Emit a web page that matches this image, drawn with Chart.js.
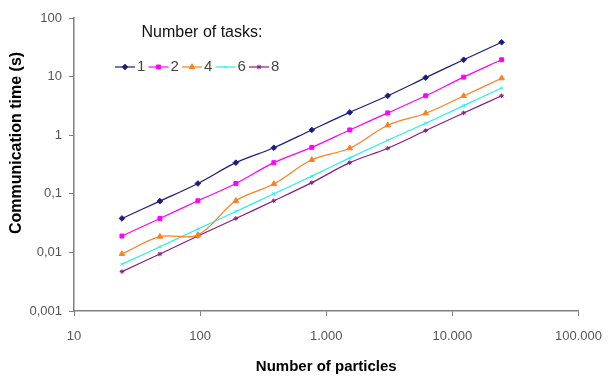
<!DOCTYPE html>
<html>
<head>
<meta charset="utf-8">
<script src="https://cdn.jsdelivr.net/npm/chart.js@4/dist/chart.umd.min.js"></script>
<style>
  html, body { margin: 0; padding: 0; background: #fff; }
  #wrap { width: 615px; height: 377px; }
</style>
</head>
<body>
<div id="wrap"><canvas id="commChart" width="615" height="377"></canvas></div>
<script>
// 数据
const particles = [24, 48, 96, 192, 384, 768, 1536, 3072, 6144, 12288, 24576];
const tasks1 = [0.038, 0.075, 0.15, 0.34, 0.61, 1.23, 2.45, 4.7, 9.6, 19.4, 38.5];
const tasks2 = [0.019, 0.038, 0.076, 0.15, 0.34, 0.62, 1.23, 2.4, 4.7, 9.8, 19.4];
const tasks4 = [0.0094, 0.0186, 0.0199, 0.076, 0.147, 0.38, 0.6, 1.48, 2.37, 4.67, 9.4];
const tasks6 = [0.0063, 0.0125, 0.025, 0.05, 0.1, 0.2, 0.41, 0.82, 1.6, 3.2, 6.4];
const tasks8 = [0.0047, 0.0094, 0.019, 0.038, 0.076, 0.155, 0.34, 0.6, 1.2, 2.4, 4.7];
const seriesLabels = ['1', '2', '4', '6', '8'];

const xTicks = [10, 100, 1000, 10000, 100000];
const xTickLabels = ['10', '100', '1.000', '10.000', '100.000'];
const yTicks = [0.001, 0.01, 0.1, 1, 10, 100];
const yTickLabels = ['0,001', '0,01', '0,1', '1', '10', '100'];

const FONT = '"Liberation Sans", Arial, sans-serif';

function toPoints(values) {
  return particles.map((x, i) => ({ x: x, y: values[i] }));
}

function makeDataset(label, values, color, pointStyle, radius) {
  return {
    label: label,
    data: toPoints(values),
    borderColor: color,
    backgroundColor: color,
    borderWidth: 1.2,
    pointStyle: pointStyle,
    pointRadius: radius,
    pointBorderWidth: 1,
    tension: 0.35
  };
}

// 图例和纵轴标题
const legendPlugin = {
  id: 'taskLegend',
  afterDraw(chart) {
    const ctx = chart.ctx;
    ctx.save();

    ctx.fillStyle = '#111';
    ctx.font = '16px ' + FONT;
    ctx.textAlign = 'center';
    ctx.textBaseline = 'middle';
    ctx.fillText('Number of tasks:', 202, 33);

    ctx.font = '15px ' + FONT;
    ctx.textAlign = 'left';
    chart.data.datasets.forEach((ds, i) => {
      const x0 = 115 + i * 33.5;
      const y = 67;
      ctx.strokeStyle = ds.borderColor;
      ctx.lineWidth = 1.2;
      ctx.beginPath();
      ctx.moveTo(x0, y);
      ctx.lineTo(x0 + 20, y);
      ctx.stroke();
      if (Chart.helpers && Chart.helpers.drawPoint) {
        ctx.fillStyle = ds.backgroundColor;
        ctx.lineWidth = 1;
        Chart.helpers.drawPoint(ctx, {
          pointStyle: ds.pointStyle, radius: ds.pointRadius, rotation: 0, borderWidth: 1
        }, x0 + 10, y);
      }
      ctx.fillStyle = '#444';
      ctx.fillText(ds.label, x0 + 22, y);
    });

    ctx.translate(17, 143);
    ctx.rotate(-Math.PI / 2);
    ctx.fillStyle = '#000';
    ctx.font = 'bold 16px ' + FONT;
    ctx.textAlign = 'center';
    ctx.fillText('Communication time (s)', 0, 0);
    ctx.restore();
  }
};

function initChart() {
  Chart.defaults.font.family = FONT;
  const ctx = document.getElementById('commChart').getContext('2d');

  new Chart(ctx, {
    type: 'line',
    data: {
      datasets: [
        makeDataset(seriesLabels[0], tasks1, '#1c1c80', 'rectRot', 2.8),
        makeDataset(seriesLabels[1], tasks2, '#ff00ff', 'rect', 2.8),
        makeDataset(seriesLabels[2], tasks4, '#ff7f1e', 'triangle', 3.2),
        makeDataset(seriesLabels[3], tasks6, '#22f0f0', 'crossRot', 2),
        makeDataset(seriesLabels[4], tasks8, '#8a1a8a', 'star', 2.3)
      ]
    },
    options: {
      responsive: false,
      animation: false,
      layout: { padding: { left: 0, top: 18, right: 25, bottom: 0 } },
      plugins: {
        legend: { display: false },
        tooltip: { enabled: false }
      },
      scales: {
        x: {
          type: 'logarithmic',
          min: 10,
          max: 100000,
          afterBuildTicks: scale => { scale.ticks = xTicks.map(v => ({ value: v })); },
          afterFit: scale => { scale.height = 66; },
          grid: { display: true, drawOnChartArea: false, drawTicks: true, tickLength: 5, color: '#808080' },
          border: { display: true, color: '#808080', width: 1.5 },
          ticks: {
            autoSkip: false,
            maxRotation: 0,
            padding: 13,
            color: '#555',
            font: { size: 13 },
            callback: (value, index) => xTickLabels[index]
          },
          title: {
            display: true,
            text: 'Number of particles',
            color: '#000',
            font: { size: 15, weight: 'bold' },
            padding: { top: 0, bottom: 1 }
          }
        },
        y: {
          type: 'logarithmic',
          min: 0.001,
          max: 100,
          afterBuildTicks: scale => { scale.ticks = yTicks.map(v => ({ value: v })); },
          afterFit: scale => { scale.width = 74; },
          grid: { display: true, drawOnChartArea: false, drawTicks: true, tickLength: 5, color: '#808080' },
          border: { display: true, color: '#808080', width: 1.5 },
          ticks: {
            autoSkip: false,
            padding: 7,
            color: '#555',
            font: { size: 13 },
            callback: (value, index) => yTickLabels[index]
          },
          title: { display: false }
        }
      }
    },
    plugins: [legendPlugin]
  });
}

if (document.readyState === 'loading') {
  document.addEventListener('DOMContentLoaded', initChart);
} else {
  initChart();
}
</script>
</body>
</html>
